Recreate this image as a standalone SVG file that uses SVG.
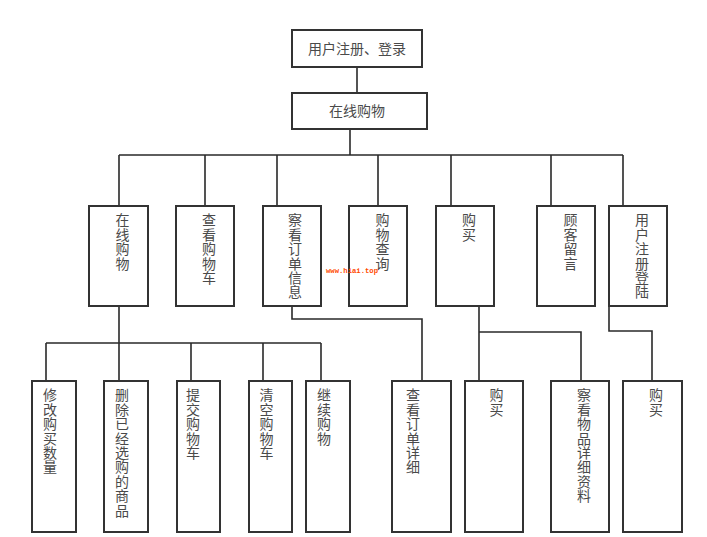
<svg xmlns="http://www.w3.org/2000/svg" width="707" height="537" viewBox="0 0 707 537">
<style>
.box{fill:#fff;stroke:#333;stroke-width:2}
.ln{fill:none;stroke:#2a2a2a;stroke-width:1.6}
.t{font-family:"Noto Sans CJK SC","Noto Sans CJK JP",sans-serif;font-size:14px;fill:#4a4a4a}
.v{writing-mode:vertical-rl;letter-spacing:0.4px}
.h{text-anchor:middle}
.wm{font-family:"Liberation Mono",monospace;font-size:8px;font-weight:bold;fill:#ff4a00}
</style>
<rect width="707" height="537" fill="#fff"/>
<g id="connectors">
<path class="ln" d="M357,67V93"/>
<path class="ln" d="M350,129V155"/>
<path class="ln" d="M119,155H623M119,155V206M205,155V206M277,155V206M378,155V206M451,155V206M551,155V206M623,155V206"/>
<path class="ln" d="M119,306V381M46,343H321M46,343V381M191,343V381M263,343V381M321,343V381"/>
<path class="ln" d="M292,306V319H422V381"/>
<path class="ln" d="M479,306V381M479,332H581V381"/>
<path class="ln" d="M609,306V331H652V381"/>
</g>
<g id="n_login"><rect class="box" x="292" y="30" width="130" height="37"/><text class="t h" x="357" y="54">用户注册、登录</text></g>
<g id="n_shop"><rect class="box" x="292" y="93" width="135" height="36"/><text class="t h" x="357" y="116">在线购物</text></g>
<g id="n_m1"><rect class="box" x="89" y="206" width="59" height="100"/><text class="t v" x="122.5" y="213">在线购物</text></g>
<g id="n_m2"><rect class="box" x="176" y="206" width="58" height="100"/><text class="t v" x="209" y="213">查看购物车</text></g>
<g id="n_m3"><rect class="box" x="263" y="206" width="58" height="100"/><text class="t v" x="295" y="213">察看订单信息</text></g>
<g id="n_m4"><rect class="box" x="349" y="206" width="58" height="100"/><text class="t v" x="382.5" y="213">购物查询</text></g>
<g id="n_m5"><rect class="box" x="436" y="206" width="58" height="100"/><text class="t v" x="469" y="213">购买</text></g>
<g id="n_m6"><rect class="box" x="537" y="206" width="58" height="100"/><text class="t v" x="570.5" y="213">顾客留言</text></g>
<g id="n_m7"><rect class="box" x="609" y="206" width="58" height="100"/><text class="t v" x="642" y="213">用户注册登陆</text></g>
<g id="n_b1"><rect class="box" x="32" y="381" width="44" height="151"/><text class="t v" x="50" y="388">修改购买数量</text></g>
<g id="n_b2"><rect class="box" x="104" y="381" width="44" height="151"/><text class="t v" x="122" y="388">删除已经选购的商品</text></g>
<g id="n_b3"><rect class="box" x="177" y="381" width="43" height="151"/><text class="t v" x="193" y="388">提交购物车</text></g>
<g id="n_b4"><rect class="box" x="249" y="381" width="43" height="151"/><text class="t v" x="266.5" y="388">清空购物车</text></g>
<g id="n_b5"><rect class="box" x="306" y="381" width="44" height="151"/><text class="t v" x="324" y="388">继续购物</text></g>
<g id="n_b6"><rect class="box" x="392" y="381" width="59" height="151"/><text class="t v" x="413" y="388">查看订单详细</text></g>
<g id="n_b7"><rect class="box" x="465" y="381" width="58" height="151"/><text class="t v" x="496.5" y="388">购买</text></g>
<g id="n_b8"><rect class="box" x="551" y="381" width="58" height="151"/><text class="t v" x="584" y="388">察看物品详细资料</text></g>
<g id="n_b9"><rect class="box" x="623" y="381" width="59" height="151"/><text class="t v" x="656" y="388">购买</text></g>
<text class="wm" x="326" y="272.5" textLength="52" lengthAdjust="spacingAndGlyphs">www.hiai.top</text>
</svg>
